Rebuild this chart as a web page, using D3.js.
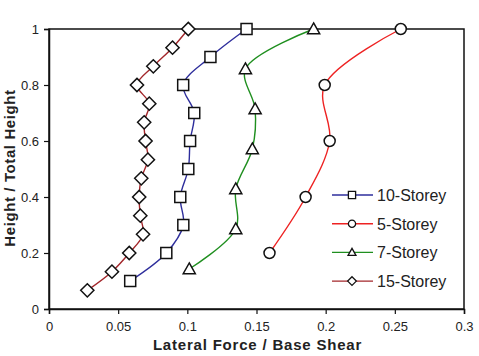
<!DOCTYPE html>
<html>
<head>
<script src="https://d3js.org/d3.v7.min.js"></script>
<style>
  body { margin: 0; background: #fff; }
  text { font-family: "Liberation Sans", Arial, sans-serif; fill: #222; }
</style>
</head>
<body>
<script>

  // series data (lateral force / base shear vs height ratio)
  var storey10 = [0.0587, 0.0848, 0.0971, 0.0949, 0.1007, 0.102, 0.105, 0.097, 0.1167, 0.1428];
  var h10 = [0.1, 0.2, 0.3, 0.4, 0.5, 0.6, 0.7, 0.8, 0.9, 1.0];

  var storey5 = [0.1594, 0.1855, 0.2029, 0.1993, 0.2543];
  var h5 = [0.2, 0.4, 0.6, 0.8, 1.0];

  var storey7 = [0.1014, 0.135, 0.135, 0.147, 0.149, 0.142, 0.1913];
  var h7 = [1/7, 2/7, 3/7, 4/7, 5/7, 6/7, 1];

  var storey15 = [0.0277, 0.0455, 0.058, 0.068, 0.066, 0.0652, 0.0667, 0.0715, 0.0698, 0.0688, 0.0725, 0.0636, 0.0754, 0.0893, 0.1007];
  var h15 = [1/15, 2/15, 3/15, 4/15, 5/15, 6/15, 7/15, 8/15, 9/15, 10/15, 11/15, 12/15, 13/15, 14/15, 1];

  var xTicks = [0, 0.05, 0.1, 0.15, 0.2, 0.25, 0.3];
  var yTicks = [0, 0.2, 0.4, 0.6, 0.8, 1];

  var series = [
    {name: "10-Storey", xs: storey10, ys: h10, color: "#2e2e9c", marker: "square"},
    {name: "5-Storey", xs: storey5, ys: h5, color: "#ee2222", marker: "circle"},
    {name: "7-Storey", xs: storey7, ys: h7, color: "#1f8f1f", marker: "triangle"},
    {name: "15-Storey", xs: storey15, ys: h15, color: "#a3272b", marker: "diamond"}
  ];

  var W = 479, H = 356;
  var margin = {top: 29, right: 15, bottom: 47, left: 49};
  var w = W - margin.left - margin.right;
  var h = H - margin.top - margin.bottom;

  var svg = d3.select("body")
    .append("svg")
    .attr("width", W)
    .attr("height", H);

  var g = svg.append("g")
    .attr("transform", `translate(${margin.left},${margin.top})`);

  var x = d3.scaleLinear().domain([0, 0.3]).range([0, w]);
  var y = d3.scaleLinear().domain([0, 1]).range([h, 0]);

  // frame
  g.append("rect")
    .attr("width", w).attr("height", h)
    .attr("fill", "none").attr("stroke", "#111").attr("stroke-width", 1.5);

  var xAxis = g.append("g")
    .attr("transform", `translate(0,${h})`)
    .call(d3.axisBottom(x).tickValues(xTicks).tickSize(5).tickPadding(8)
      .tickFormat(function(d) { return d; }));

  var yAxis = g.append("g")
    .call(d3.axisLeft(y).tickValues(yTicks).tickSize(5).tickPadding(5)
      .tickFormat(function(d) { return d; }));

  [xAxis, yAxis].forEach(function(a) {
    a.select(".domain").attr("stroke", "#111").attr("stroke-width", 1.5);
    a.selectAll(".tick line").attr("stroke", "#111").attr("stroke-width", 1.2);
    a.selectAll(".tick text").attr("font-size", 13).attr("fill", "#222")
      .attr("font-family", "'Liberation Sans', Arial, sans-serif");
  });

  // axis titles
  svg.append("text")
    .attr("x", margin.left + w / 2 + 1)
    .attr("y", 350)
    .attr("text-anchor", "middle")
    .attr("font-size", 15).attr("font-weight", "bold")
    .style("letter-spacing", "0.8px")
    .text("Lateral Force / Base Shear");

  svg.append("text")
    .attr("transform", "translate(15,168) rotate(-90)")
    .attr("text-anchor", "middle")
    .attr("font-size", 15).attr("font-weight", "bold")
    .style("letter-spacing", "0.6px")
    .text("Height / Total Height");

  function markerPath(type, s) {
    if (type === "square") return `M${-s},${-s}H${s}V${s}H${-s}Z`;
    if (type === "circle") return `M${-s},0A${s},${s} 0 1,0 ${s},0A${s},${s} 0 1,0 ${-s},0Z`;
    if (type === "triangle") return `M0,${-s * 1.1}L${s * 1.1},${s * 0.85}L${-s * 1.1},${s * 0.85}Z`;
    return `M0,${-s * 1.2}L${s * 1.2},0L0,${s * 1.2}L${-s * 1.2},0Z`;
  }

  var line = d3.line()
    .x(function(d) { return x(d[0]); })
    .y(function(d) { return y(d[1]); })
    .curve(d3.curveCatmullRom.alpha(0.5));

  series.forEach(function(s) {
    var pts = s.xs.map(function(v, i) { return [v, s.ys[i]]; });
    g.append("path")
      .datum(pts)
      .attr("d", line)
      .attr("fill", "none")
      .attr("stroke", s.color)
      .attr("stroke-width", 1.4);

    g.selectAll(null)
      .data(pts)
      .enter()
      .append("path")
      .attr("transform", function(d) { return `translate(${x(d[0])},${y(d[1])})`; })
      .attr("d", markerPath(s.marker, 5.5))
      .attr("fill", "#fff")
      .attr("stroke", "#111")
      .attr("stroke-width", 1.5);
  });

  // legend
  var legend = svg.append("g")
    .attr("transform", "translate(332,195)");

  series.forEach(function(s, i) {
    var row = legend.append("g").attr("transform", `translate(0,${i * 28.7})`);
    row.append("line")
      .attr("x1", 0).attr("x2", 41)
      .attr("stroke", s.color).attr("stroke-width", 1.4);
    row.append("path")
      .attr("transform", "translate(20,0)")
      .attr("d", markerPath(s.marker, 3.6))
      .attr("fill", "#fff").attr("stroke", "#111").attr("stroke-width", 1.3);
    row.append("text")
      .attr("x", 45).attr("y", 6)
      .attr("font-size", 16)
      .text(s.name);
  });

</script>
</body>
</html>
